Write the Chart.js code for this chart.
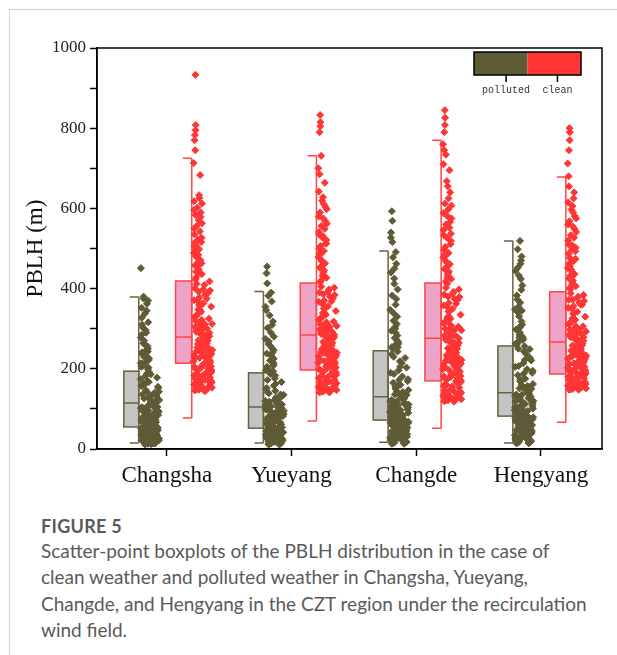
<!DOCTYPE html>
<html>
<head>
<meta charset="utf-8">
<script src="https://cdn.jsdelivr.net/npm/chart.js@4.4.1/dist/chart.umd.min.js"></script>
<style>
  body { margin: 0; background: #fff; }
  #wrap { position: relative; width: 617px; height: 655px; overflow: hidden; }
  #card { position: absolute; left: 9px; top: 9px; right: -5px; bottom: -5px;
          border-top: 1px solid #cfcfcf; border-left: 1px solid #d4d4d4; }
  #myChart { position: absolute; left: 0; top: 0; }
  #caption { position: absolute; left: 41px; top: 514px; width: 572px;
             font-family: Lato, "Open Sans", sans-serif; color: #5a5a5a; }
  #caption .fig { font-size: 18px; font-weight: 700; letter-spacing: 0.3px; line-height: 24px; }
  #caption .txt { font-size: 19px; line-height: 26.3px; }
</style>
</head>
<body>
<div id="wrap">
  <div id="card"></div>
  <canvas id="myChart" width="617" height="500"></canvas>
  <div id="caption">
    <div class="fig">FIGURE 5</div>
    <div class="txt">Scatter-point boxplots of the PBLH distribution in the case of<br>clean weather and polluted weather in Changsha, Yueyang,<br>Changde, and Hengyang in the CZT region under the recirculation<br>wind field.</div>
  </div>
</div>
<script>
const cities = ['Changsha', 'Yueyang', 'Changde', 'Hengyang'];
const yTicks = [0, 200, 400, 600, 800, 1000];

// box statistics (m)
const pollutedQ1 = [55, 52, 72, 82];
const pollutedMedian = [115, 105, 130, 140];
const pollutedQ3 = [194, 190, 245, 257];
const pollutedLow = [15, 15, 17, 15];
const pollutedHigh = [379, 393, 494, 519];

const cleanQ1 = [214, 197, 170, 187];
const cleanMedian = [279, 284, 276, 267];
const cleanQ3 = [419, 414, 414, 392];
const cleanLow = [77, 70, 52, 67];
const cleanHigh = [725, 731, 770, 678];

// scatter points, PBLH (m)
const changshaPolluted = [18, 64, 132, 27, 205, 88, 41, 152, 12, 310, 73, 109, 36, 246, 57, 178, 22, 95, 140, 48, 380, 121, 15, 67, 192, 31, 83, 264, 53, 118, 162, 24, 77, 214, 44, 101, 370, 61, 136, 19, 188, 92, 34, 126, 58, 229, 70, 14, 147, 105, 39, 285, 81, 170, 26, 113, 62, 199, 46, 97, 345, 29, 155, 74, 237, 16, 128, 51, 86, 182, 33, 110, 451, 69, 142, 21, 296, 56, 99, 167, 43, 218, 79, 125, 38, 327, 90, 13, 174, 63,
  11, 37, 72, 104, 20, 49, 85, 133, 25, 58, 96, 157, 30, 66, 118, 42, 80, 23, 52, 143, 17, 61, 91, 35, 76, 115, 28, 47, 186, 68, 14, 55, 102, 39, 84, 26, 130, 71, 45, 19, 94, 60, 160, 32, 78, 22, 107, 50, 203, 37, 65, 15, 87, 122, 29, 57, 250, 41, 75, 20,
  208, 222, 233, 241, 256, 270, 278, 290, 303, 316, 338, 352, 362, 375, 226, 258, 212, 243];
const changshaClean = [933, 262, 418, 181, 305, 808, 227, 355, 150, 496, 284, 203, 371, 795, 246, 168, 438, 319, 193, 265, 612, 144, 336, 230, 783, 401, 274, 158, 527, 212, 292, 389, 176, 713, 251, 347, 221, 455, 163, 300, 770, 238, 409, 186, 579, 268, 329, 147, 480, 216, 363, 199, 683, 257, 312, 172, 423, 281, 240, 550, 190, 378, 206, 745, 296, 155, 342, 233, 633, 271, 395, 184, 505, 223, 288, 166, 446, 253, 325, 208, 596, 277, 360, 195, 466, 243, 152, 315, 219, 385,
  158, 236, 301, 175, 264, 348, 197, 282, 149, 224, 317, 183, 256, 392, 165, 249, 331, 210, 288, 153, 231, 370, 189, 273, 146, 214, 307, 170, 260, 412, 200, 295, 161, 242, 338, 178, 268, 154, 226, 356, 192, 285, 167, 251, 322, 205, 279, 148, 234, 398, 186, 270, 160, 247, 311, 196, 290, 173, 228, 375,
  428, 436, 449, 458, 471, 477, 489, 498, 509, 516, 522, 535, 543, 556, 563, 571, 584, 590, 602, 618, 626, 442, 463, 484, 515];
const yueyangPolluted = [455, 17, 96, 43, 152, 68, 24, 208, 81, 12, 130, 57, 35, 413, 104, 19, 176, 63, 29, 262, 88, 47, 118, 14, 71, 196, 38, 93, 22, 145, 59, 309, 31, 110, 76, 16, 167, 50, 26, 232, 85, 41, 124, 11, 66, 438, 99, 34, 187, 54, 20, 141, 79, 45, 280, 113, 28, 61, 158, 37, 90, 15, 215, 73, 48, 127, 23, 355, 84, 40, 102, 18, 172, 56, 30, 246, 92, 13, 136, 65, 44, 390, 107, 25, 183, 52, 33, 69, 120, 21,
  14, 39, 70, 98, 23, 46, 82, 128, 18, 55, 89, 150, 27, 62, 111, 36, 75, 12, 49, 135, 21, 58, 94, 31, 67, 116, 16, 43, 162, 80, 26, 53, 100, 34, 72, 19, 122, 60, 40, 15, 86, 51, 139, 24, 64, 29, 105, 45, 194, 33, 77, 11, 57, 95, 20, 42, 227, 68, 37, 17,
  200, 212, 221, 238, 251, 268, 275, 290, 302, 318, 333, 346, 368, 382, 225, 257, 205, 240];
const yueyangClean = [833, 251, 402, 174, 298, 815, 219, 344, 148, 488, 276, 206, 367, 805, 240, 162, 431, 311, 189, 262, 598, 141, 329, 226, 790, 390, 270, 155, 521, 209, 287, 375, 171, 700, 247, 339, 218, 448, 159, 293, 731, 234, 398, 183, 568, 264, 322, 145, 473, 213, 356, 196, 664, 255, 307, 168, 416, 279, 237, 541, 186, 370, 203, 628, 291, 152, 335, 230, 611, 267, 384, 179, 500, 221, 283, 164, 440, 249, 318, 200, 580, 273, 351, 192, 459, 242, 151, 309, 215, 380,
  150, 228, 295, 167, 258, 340, 190, 276, 143, 218, 312, 177, 250, 386, 158, 243, 326, 204, 282, 147, 225, 362, 182, 267, 141, 208, 301, 163, 254, 405, 194, 289, 155, 236, 332, 172, 262, 149, 221, 349, 185, 279, 160, 245, 316, 199, 272, 144, 229, 392, 180, 265, 153, 240, 305, 191, 285, 166, 223, 368,
  420, 427, 435, 452, 463, 468, 479, 494, 506, 513, 527, 535, 549, 556, 562, 575, 590, 604, 619, 642, 445, 486, 512, 531, 685];
const changdePolluted = [593, 21, 112, 58, 236, 84, 33, 169, 97, 15, 569, 141, 66, 290, 44, 203, 78, 26, 125, 540, 90, 52, 187, 18, 338, 106, 70, 150, 37, 258, 61, 516, 120, 29, 214, 86, 47, 160, 13, 374, 99, 64, 132, 41, 227, 75, 24, 181, 108, 55, 450, 88, 35, 144, 68, 305, 117, 20, 196, 81, 49, 527, 103, 30, 165, 72, 243, 94, 39, 136, 17, 412, 59, 114, 27, 174, 82, 46, 271, 101, 63, 491, 155, 31, 219, 76, 128, 42, 92, 23,
  16, 44, 85, 122, 25, 57, 98, 160, 19, 66, 109, 190, 34, 73, 135, 48, 92, 14, 60, 147, 28, 79, 113, 38, 87, 142, 22, 53, 205, 95, 30, 65, 119, 45, 83, 18, 172, 70, 50, 26, 104, 62, 230, 36, 90, 21, 127, 56, 254, 40, 80, 13, 67, 111, 32, 58, 283, 77, 43, 24,
  250, 262, 277, 295, 312, 320, 347, 360, 383, 398, 425, 440, 462, 478, 266, 300, 254, 330];
const changdeClean = [845, 228, 398, 151, 283, 826, 197, 335, 122, 484, 259, 180, 358, 808, 222, 136, 427, 300, 165, 244, 607, 118, 318, 206, 790, 385, 254, 131, 519, 188, 272, 371, 147, 760, 230, 329, 195, 445, 139, 281, 734, 213, 392, 160, 566, 248, 313, 125, 470, 192, 350, 174, 695, 238, 296, 143, 412, 265, 217, 546, 169, 364, 182, 655, 276, 128, 325, 209, 625, 251, 379, 156, 497, 201, 268, 140, 437, 234, 305, 185, 588, 261, 343, 172, 456, 220, 133, 290, 199, 375,
  128, 210, 282, 146, 240, 330, 171, 262, 121, 199, 303, 158, 233, 380, 138, 226, 318, 186, 270, 124, 207, 355, 164, 253, 119, 190, 292, 143, 236, 402, 177, 279, 133, 218, 325, 153, 247, 126, 203, 343, 167, 266, 140, 228, 308, 181, 259, 122, 212, 388, 161, 250, 131, 222, 296, 174, 276, 148, 205, 362,
  418, 424, 433, 449, 461, 466, 478, 489, 504, 511, 526, 533, 552, 560, 575, 597, 612, 640, 668, 710, 442, 482, 537, 580, 745];
const hengyangPolluted = [519, 24, 131, 70, 262, 95, 41, 190, 112, 16, 480, 156, 77, 306, 55, 221, 86, 30, 143, 452, 101, 63, 207, 20, 355, 119, 82, 168, 45, 278, 68, 397, 135, 34, 236, 92, 58, 176, 14, 424, 108, 74, 148, 50, 249, 88, 27, 199, 124, 61, 331, 98, 38, 160, 79, 290, 129, 22, 214, 90, 53, 373, 115, 36, 184, 72, 268, 104, 47, 151, 19, 243, 66, 127, 32, 195, 85, 56, 227, 110, 70, 462, 173, 40, 256, 83, 139, 48, 97, 26,
  18, 50, 92, 136, 28, 64, 107, 175, 21, 72, 118, 205, 37, 81, 150, 54, 100, 15, 67, 162, 31, 86, 124, 43, 95, 157, 25, 59, 222, 103, 34, 74, 133, 49, 91, 20, 188, 78, 56, 29, 113, 69, 250, 40, 98, 23, 141, 62, 280, 45, 88, 14, 75, 120, 35, 65, 310, 84, 47, 27,
  263, 272, 285, 298, 318, 340, 348, 365, 383, 408, 432, 444, 470, 498, 275, 303, 260, 345];
const hengyangClean = [800, 243, 384, 176, 285, 790, 214, 330, 150, 462, 263, 201, 352, 770, 232, 163, 411, 298, 188, 255, 575, 148, 318, 222, 745, 372, 261, 157, 502, 208, 279, 360, 170, 712, 239, 325, 217, 430, 160, 288, 680, 228, 380, 181, 548, 252, 311, 153, 455, 205, 342, 193, 640, 248, 293, 166, 401, 270, 235, 520, 184, 356, 197, 606, 282, 155, 322, 225, 590, 258, 369, 174, 487, 211, 275, 162, 420, 246, 306, 191, 560, 266, 337, 186, 441, 230, 158, 295, 203, 365,
  156, 226, 289, 171, 250, 326, 192, 268, 149, 213, 301, 180, 243, 372, 162, 236, 314, 203, 276, 151, 220, 350, 185, 259, 148, 208, 295, 167, 246, 388, 197, 282, 158, 230, 320, 176, 255, 152, 216, 338, 188, 272, 164, 239, 306, 200, 264, 150, 223, 378, 183, 258, 160, 233, 298, 195, 279, 169, 211, 360,
  398, 406, 414, 425, 436, 447, 451, 468, 476, 493, 498, 510, 527, 533, 541, 555, 568, 581, 597, 615, 625, 432, 474, 508, 655];

const pollutedPoints = [changshaPolluted, yueyangPolluted, changdePolluted, hengyangPolluted];
const cleanPoints = [changshaClean, yueyangClean, changdeClean, hengyangClean];

const olive = '#5e5b36';
const red = '#ff3535';

// box placement relative to each category tick (x units)
const series = [
  {name: 'polluted', left: -0.345, right: -0.225, fill: '#c4c4c4', line: '#66633f',
   q1: pollutedQ1, med: pollutedMedian, q3: pollutedQ3, lo: pollutedLow, hi: pollutedHigh, pts: pollutedPoints, color: olive},
  {name: 'clean', left: 0.07, right: 0.20, fill: '#eda3c5', line: '#ff4545',
   q1: cleanQ1, med: cleanMedian, q3: cleanQ3, lo: cleanLow, hi: cleanHigh, pts: cleanPoints, color: red}
];

// points sit just right of the whisker, spread wider where dense
function scatterData(s) {
  const out = [];
  s.pts.forEach((vals, c) => {
    const edge = c + 1 + s.right;
    vals.forEach((v, i) => {
      let w = 0.025;
      if (v <= s.q3[c]) w = 0.15;
      else if (v <= s.hi[c]) w = 0.07;
      const j = ((i + 1) * 0.6180339) % 1;
      out.push({x: edge + 0.014 + j * w, y: v});
    });
  });
  return out;
}

const boxPlugin = {
  id: 'boxes',
  beforeDatasetsDraw(chart) {
    const {ctx, scales: {x, y}} = chart;
    ctx.save();
    series.forEach(s => {
      for (let c = 0; c < cities.length; c++) {
        const xl = x.getPixelForValue(c + 1 + s.left);
        const xr = x.getPixelForValue(c + 1 + s.right);
        const capL = x.getPixelForValue(c + 1 + s.right - 0.072);
        const y1 = y.getPixelForValue(s.q1[c]);
        const y3 = y.getPixelForValue(s.q3[c]);
        const ym = y.getPixelForValue(s.med[c]);
        const ylo = y.getPixelForValue(s.lo[c]);
        const yhi = y.getPixelForValue(s.hi[c]);
        ctx.lineWidth = 1.5;
        ctx.strokeStyle = s.line;
        ctx.fillStyle = s.fill;
        ctx.fillRect(xl, y3, xr - xl, y1 - y3);
        ctx.strokeRect(xl, y3, xr - xl, y1 - y3);
        ctx.beginPath();
        ctx.moveTo(xl, ym); ctx.lineTo(xr, ym);
        ctx.moveTo(xr, yhi); ctx.lineTo(xr, ylo);
        ctx.moveTo(capL, yhi); ctx.lineTo(xr, yhi);
        ctx.moveTo(capL, ylo); ctx.lineTo(xr, ylo);
        ctx.stroke();
      }
    });
    ctx.restore();
  },
  afterDraw(chart) {
    const {ctx, chartArea: a} = chart;
    ctx.save();
    // frame
    ctx.strokeStyle = '#000';
    ctx.lineWidth = 1.5;
    ctx.strokeRect(a.left, a.top, a.right - a.left, a.bottom - a.top);
    // legend box, top right
    const lx = a.right - 128, ly = a.top + 4, lw = 107, lh = 23;
    ctx.fillStyle = olive;
    ctx.fillRect(lx, ly, lw / 2, lh);
    ctx.fillStyle = red;
    ctx.fillRect(lx + lw / 2, ly, lw / 2, lh);
    ctx.lineWidth = 1.5;
    ctx.strokeRect(lx, ly, lw, lh);
    ctx.beginPath();
    ctx.moveTo(lx + lw * 0.3, ly + lh); ctx.lineTo(lx + lw * 0.3, ly + lh + 7);
    ctx.moveTo(lx + lw * 0.78, ly + lh); ctx.lineTo(lx + lw * 0.78, ly + lh + 7);
    ctx.stroke();
    ctx.fillStyle = '#333';
    ctx.font = '10px "Liberation Mono", monospace';
    ctx.textAlign = 'center';
    ctx.textBaseline = 'middle';
    ctx.fillText('polluted', lx + lw * 0.3, ly + lh + 15);
    ctx.fillText('clean', lx + lw * 0.78, ly + lh + 15);
    ctx.restore();
  }
};

const ctx = document.getElementById('myChart');

new Chart(ctx, {
  type: 'scatter',
  data: {
    datasets: series.map(s => ({
      label: s.name,
      data: scatterData(s),
      backgroundColor: s.color,
      borderColor: s.color,
      borderWidth: 1,
      pointStyle: 'rectRot',
      pointRadius: 3.5
    }))
  },
  options: {
    responsive: false,
    animation: false,
    layout: {padding: {top: 48, right: 15, left: 0, bottom: 0}},
    plugins: {legend: {display: false}, tooltip: {enabled: false}},
    scales: {
      x: {
        type: 'linear',
        min: 0.44,
        max: 4.49,
        afterBuildTicks: (scale) => { scale.ticks = cities.map((c, i) => ({value: i + 1})); },
        afterFit: (scale) => { scale.height = 51; },
        ticks: {
          callback: (v) => cities[v - 1],
          color: '#111',
          padding: 6,
          font: {family: '"Liberation Serif", "Times New Roman", serif', size: 23}
        },
        grid: {drawOnChartArea: false, drawTicks: true, tickLength: 7, tickColor: '#000', tickWidth: 1.5},
        border: {display: true, color: '#000', width: 1.5}
      },
      y: {
        min: 0,
        max: 1000,
        afterBuildTicks: (scale) => {
          const t = [];
          for (let v = 0; v <= 1000; v += 100) t.push({value: v});
          scale.ticks = t;
        },
        afterFit: (scale) => { scale.width = 97; },
        ticks: {
          callback: (v) => (yTicks.includes(v) ? String(v) : ''),
          color: '#222',
          padding: 4,
          font: {family: '"Liberation Serif", "Times New Roman", serif', size: 17}
        },
        grid: {drawOnChartArea: false, drawTicks: true, tickLength: 7, tickColor: '#000', tickWidth: 1.5},
        border: {display: true, color: '#000', width: 1.5},
        title: {
          display: true,
          text: 'PBLH (m)',
          color: '#111',
          padding: {top: 22, bottom: 0},
          font: {family: '"Liberation Serif", "Times New Roman", serif', size: 23}
        }
      }
    }
  },
  plugins: [boxPlugin]
});
</script>
</body>
</html>
